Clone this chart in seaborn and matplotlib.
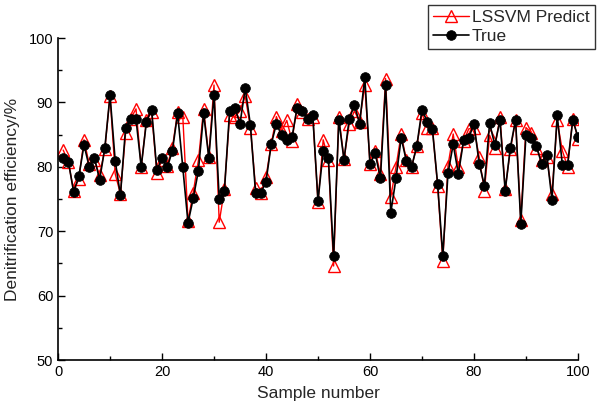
import numpy as np
import pandas as pd
import matplotlib
matplotlib.use("Agg")
import matplotlib.pyplot as plt
import seaborn as sns
from matplotlib.ticker import MultipleLocator

# ==========================================================
# DATA
# ==========================================================

samples = list(range(1, 101))

true_vals = [
    81.3, 80.8, 76.1, 78.5, 83.4, 80.0, 81.4, 78.0, 82.9, 91.1,
    80.9, 75.6, 86.1, 87.4, 87.4, 80.0, 87.0, 88.9, 79.5, 81.3,
    79.9, 82.5, 88.3, 79.9, 71.3, 75.1, 79.4, 88.3, 81.4, 91.2,
    75.0, 76.3, 88.6, 89.2, 86.7, 92.2, 86.5, 75.9, 75.9, 77.7,
    83.5, 86.7, 84.9, 84.2, 84.6, 89.2, 88.6, 87.4, 88.0, 74.7,
    82.5, 81.3, 66.1, 87.3, 81.1, 87.4, 89.6, 86.7, 93.9, 80.4,
    82.1, 78.2, 92.7, 72.9, 78.2, 84.5, 80.9, 80.0, 83.2, 88.9,
    87.0, 85.9, 77.4, 66.2, 79.0, 83.5, 78.9, 84.1, 84.5, 86.7,
    80.5, 77.1, 86.8, 83.4, 87.2, 76.3, 83.0, 87.3, 71.2, 85.0,
    84.4, 83.2, 80.5, 81.9, 74.9, 88.0, 80.3, 80.3, 87.3, 84.6,
]

pred_vals = [
    82.6, 80.7, 76.3, 78.1, 84.2, 80.4, 81.0, 78.7, 82.7, 91.0,
    78.9, 75.8, 85.2, 87.5, 89.0, 80.0, 87.2, 88.5, 79.1, 81.0,
    80.2, 83.0, 88.5, 87.8, 71.6, 76.0, 81.0, 89.0, 81.6, 92.7,
    71.4, 76.5, 88.0, 87.7, 88.7, 91.0, 86.1, 76.7, 76.0, 78.4,
    83.5, 87.8, 85.5, 87.2, 84.0, 89.7, 88.5, 87.5, 87.8, 74.5,
    84.2, 81.0, 64.6, 87.8, 81.2, 86.6, 88.7, 87.0, 92.7, 80.5,
    82.5, 78.9, 93.7, 75.3, 80.0, 85.1, 81.0, 80.0, 83.2, 88.3,
    86.1, 86.0, 77.1, 65.4, 80.2, 85.1, 79.9, 84.0, 85.9, 86.0,
    81.5, 76.3, 84.9, 82.9, 87.8, 76.5, 82.7, 87.2, 71.8, 86.1,
    85.3, 83.0, 81.0, 81.5, 75.8, 87.2, 82.5, 80.0, 87.5, 84.3,
]

df = pd.DataFrame({
    "Sample": samples,
    "True": true_vals,
    "Predict": pred_vals,
})

# ==========================================================
# PLOT
# ==========================================================

sns.set_style("ticks")
plt.rcParams["font.family"] = ["Liberation Sans", "DejaVu Sans"]

fig = plt.figure(figsize=(6, 4.11), dpi=100)
ax = fig.add_axes([0.0967, 0.124, 0.8666, 0.7835])

sns.lineplot(
    data=df,
    x="Sample",
    y="Predict",
    ax=ax,
    color="red",
    linewidth=1.0,
    marker="^",
    markersize=8,
    markerfacecolor="none",
    markeredgecolor="red",
    markeredgewidth=1.0,
    label="LSSVM Predict",
)

sns.lineplot(
    data=df,
    x="Sample",
    y="True",
    ax=ax,
    color="black",
    linewidth=1.2,
    marker="o",
    markersize=7,
    markerfacecolor="black",
    markeredgecolor="black",
    markeredgewidth=0.5,
    label="True",
)

ax.set_xlim(0, 100)
ax.set_ylim(50, 100)

ax.xaxis.set_major_locator(MultipleLocator(20))
ax.xaxis.set_minor_locator(MultipleLocator(10))
ax.yaxis.set_major_locator(MultipleLocator(10))
ax.yaxis.set_minor_locator(MultipleLocator(5))

ax.tick_params(which="both", direction="in", width=1.0, labelsize=10.5,
               colors="black")
ax.tick_params(which="major", length=5)
ax.tick_params(which="minor", length=3)

sns.despine(ax=ax)
for side in ["left", "bottom"]:
    ax.spines[side].set_linewidth(1.2)
    ax.spines[side].set_color("black")

ax.set_xlabel("Sample number", fontsize=12.5, labelpad=5)
ax.set_ylabel("Denitrification efficiency/%", fontsize=12.5, labelpad=6)

leg = ax.legend(
    loc="upper left",
    bbox_to_anchor=(0.713, 0.988),
    bbox_transform=fig.transFigure,
    fontsize=12.5,
    frameon=True,
    fancybox=False,
    edgecolor="black",
    handlelength=2.1,
    handletextpad=0.15,
    borderpad=0.3,
    labelspacing=0.2,
    borderaxespad=0,
)
leg.get_frame().set_linewidth(1.0)

fig.savefig("out.png", dpi=100)
plt.close(fig)
